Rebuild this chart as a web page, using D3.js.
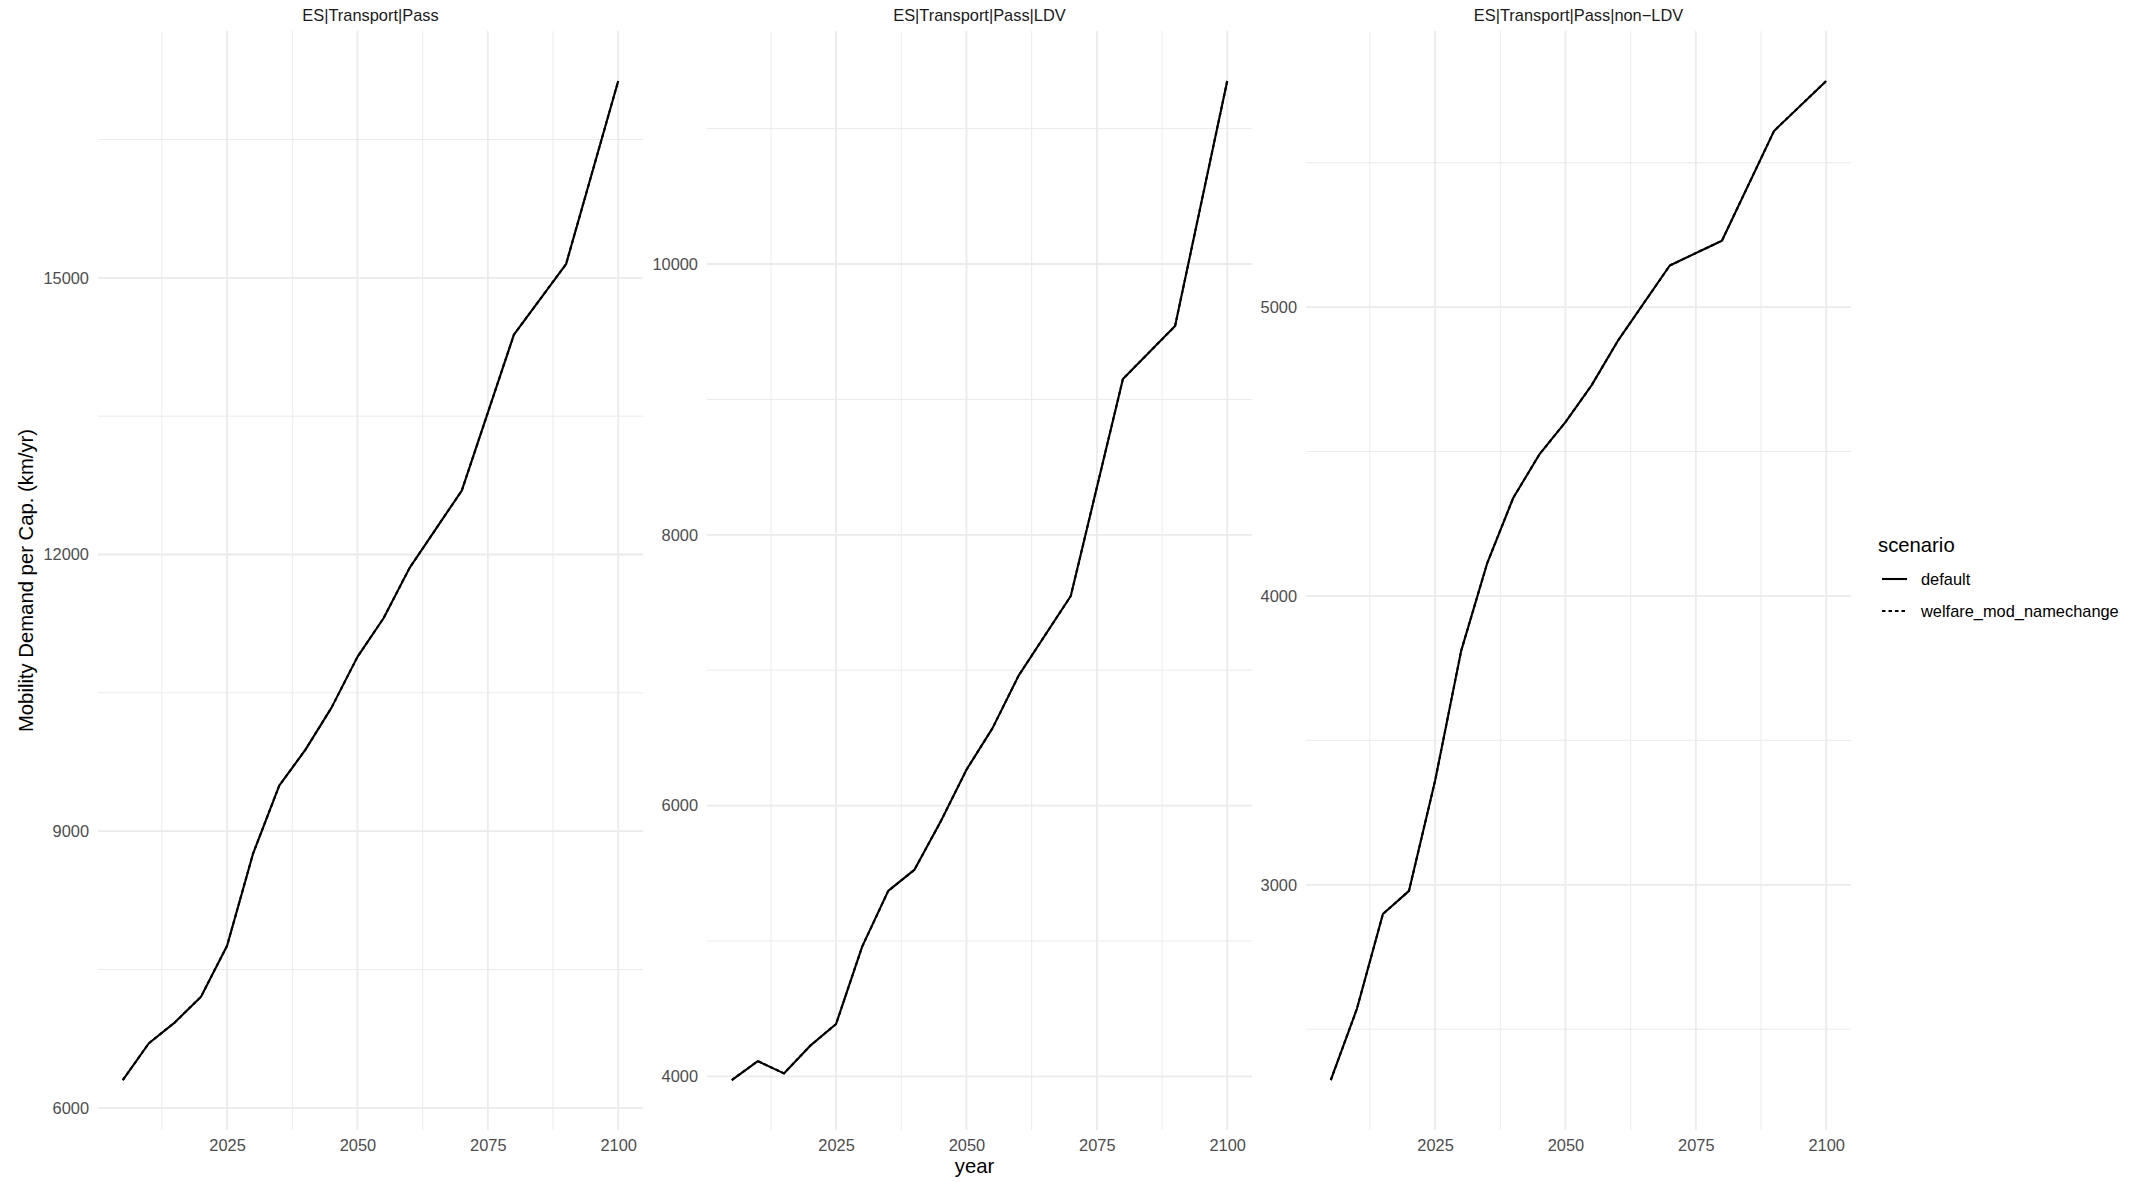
<!DOCTYPE html>
<html>
<head>
<meta charset="utf-8">
<script src="https://cdn.jsdelivr.net/npm/d3@7"></script>
<style>
  body { margin: 0; background: #fff; }
  text { font-family: "Liberation Sans", Arial, Helvetica, sans-serif; }
</style>
</head>
<body>
<div id="chart-container"></div>
<script>
//Data (km/yr per capita, by year)

const years = [2005, 2010, 2015, 2020, 2025, 2030, 2035, 2040, 2045, 2050, 2055, 2060, 2070, 2080, 2090, 2100];

const panelNames = ["ES|Transport|Pass", "ES|Transport|Pass|LDV", "ES|Transport|Pass|non\u2212LDV"];
const scenarios = ["default", "welfare_mod_namechange"];

const passDefault = [6301, 6700, 6927, 7205, 7758, 8760, 9493, 9881, 10337, 10890, 11309, 11855, 12693, 14384, 15149, 17135];
const passWelfare = [6301, 6700, 6927, 7205, 7758, 8760, 9493, 9881, 10337, 10890, 11309, 11855, 12693, 14384, 15149, 17135];

const ldvDefault = [3973, 4113, 4022, 4225, 4387, 4958, 5370, 5525, 5878, 6265, 6572, 6960, 7548, 9151, 9542, 11352];
const ldvWelfare = [3973, 4113, 4022, 4225, 4387, 4958, 5370, 5525, 5878, 6265, 6572, 6960, 7548, 9151, 9542, 11352];

const nonLdvDefault = [2324, 2570, 2899, 2979, 3360, 3810, 4114, 4340, 4490, 4602, 4729, 4882, 5144, 5230, 5610, 5783];
const nonLdvWelfare = [2324, 2570, 2899, 2979, 3360, 3810, 4114, 4340, 4490, 4602, 4729, 4882, 5144, 5230, 5610, 5783];

//Tick values

const xTicks = [2025, 2050, 2075, 2100];
const xMinor = [2012.5, 2037.5, 2062.5, 2087.5];
const yTicks = [[6000, 9000, 12000, 15000], [4000, 6000, 8000, 10000], [3000, 4000, 5000]];
const yMinor = [[7500, 10500, 13500, 16500], [5000, 7000, 9000, 11000], [2500, 3500, 4500, 5500]];

//Layout constants

const width = 2147;
const height = 1182;
const panelTop = 31;
const panelBottom = 1130;
const panelWidth = 545;
const panelLefts = [98, 707, 1306];
const gridColor = "#ebebeb";
const tickColor = "#4d4d4d";
const fontSmall = 16.4;
const fontLarge = 20.3;

const panels = [
  { name: panelNames[0], series: [passDefault, passWelfare] },
  { name: panelNames[1], series: [ldvDefault, ldvWelfare] },
  { name: panelNames[2], series: [nonLdvDefault, nonLdvWelfare] }
];

//ggplot-style 5% expansion of a data range

function expand(ext) {
  const pad = (ext[1] - ext[0]) * 0.05;
  return [ext[0] - pad, ext[1] + pad];
}

const svg = d3.select("#chart-container")
  .append("svg")
  .attr("width", width)
  .attr("height", height)
  .style("background", "#fff");

const xDomain = expand(d3.extent(years));

panels.forEach((p, i) => {
  const left = panelLefts[i];

  const xScale = d3.scaleLinear().domain(xDomain).range([left, left + panelWidth]);
  const yScale = d3.scaleLinear()
    .domain(expand(d3.extent(p.series.flat())))
    .range([panelBottom, panelTop]);

  const g = svg.append("g").attr("class", "panel");

  //minor gridlines first, then major

  g.selectAll(".xMinor")
    .data(xMinor)
    .join("line")
    .attr("x1", (d) => xScale(d))
    .attr("x2", (d) => xScale(d))
    .attr("y1", panelTop)
    .attr("y2", panelBottom)
    .attr("stroke", gridColor)
    .attr("stroke-width", 1);

  g.selectAll(".yMinor")
    .data(yMinor[i])
    .join("line")
    .attr("x1", left)
    .attr("x2", left + panelWidth)
    .attr("y1", (d) => yScale(d))
    .attr("y2", (d) => yScale(d))
    .attr("stroke", gridColor)
    .attr("stroke-width", 1);

  g.selectAll(".xMajor")
    .data(xTicks)
    .join("line")
    .attr("x1", (d) => xScale(d))
    .attr("x2", (d) => xScale(d))
    .attr("y1", panelTop)
    .attr("y2", panelBottom)
    .attr("stroke", gridColor)
    .attr("stroke-width", 1.8);

  g.selectAll(".yMajor")
    .data(yTicks[i])
    .join("line")
    .attr("x1", left)
    .attr("x2", left + panelWidth)
    .attr("y1", (d) => yScale(d))
    .attr("y2", (d) => yScale(d))
    .attr("stroke", gridColor)
    .attr("stroke-width", 1.8);

  //axes (labels only)

  g.append("g")
    .attr("transform", `translate(${left},0)`)
    .call(d3.axisLeft(yScale)
      .tickValues(yTicks[i])
      .tickFormat(d3.format("d"))
      .tickSize(0)
      .tickPadding(9))
    .call((a) => a.select(".domain").remove())
    .attr("font-size", fontSmall)
    .attr("font-family", null)
    .selectAll(".tick text")
      .attr("fill", tickColor);

  g.append("g")
    .attr("transform", `translate(0,${panelBottom})`)
    .call(d3.axisBottom(xScale)
      .tickValues(xTicks)
      .tickFormat(d3.format("d"))
      .tickSize(0)
      .tickPadding(9))
    .call((a) => a.select(".domain").remove())
    .attr("font-size", fontSmall)
    .attr("font-family", null)
    .selectAll(".tick text")
      .attr("fill", tickColor);

  //strip title

  g.append("text")
    .attr("x", left + panelWidth / 2)
    .attr("y", 21)
    .attr("text-anchor", "middle")
    .attr("font-size", fontSmall)
    .attr("fill", "#1a1a1a")
    .text(p.name);

  //lines: default solid, welfare dashed on top

  const line = d3.line()
    .x((d, j) => xScale(years[j]))
    .y((d) => yScale(d));

  g.selectAll(".series")
    .data(p.series)
    .join("path")
    .attr("fill", "none")
    .attr("stroke", "#000")
    .attr("stroke-width", 2.1)
    .attr("stroke-linejoin", "round")
    .attr("stroke-dasharray", (d, k) => k === 1 ? "3.5,3" : null)
    .attr("d", line);
});

//Axis titles

svg.append("text")
  .attr("x", (panelLefts[0] + panelLefts[2] + panelWidth) / 2)
  .attr("y", 1173)
  .attr("text-anchor", "middle")
  .attr("font-size", fontLarge)
  .attr("fill", "#000")
  .text("year");

svg.append("text")
  .attr("transform", `translate(32.5,${(panelTop + panelBottom) / 2}) rotate(-90)`)
  .attr("text-anchor", "middle")
  .attr("font-size", fontLarge)
  .attr("fill", "#000")
  .text("Mobility Demand per Cap. (km/yr)");

//Legend

const legend = svg.append("g").attr("transform", "translate(1878,0)");

legend.append("text")
  .attr("x", 0)
  .attr("y", 552)
  .attr("font-size", fontLarge)
  .attr("fill", "#000")
  .text("scenario");

legend.selectAll(".key")
  .data(scenarios)
  .join("line")
  .attr("x1", 4)
  .attr("x2", 29)
  .attr("y1", (d, k) => 579 + k * 32)
  .attr("y2", (d, k) => 579 + k * 32)
  .attr("stroke", "#000")
  .attr("stroke-width", 2.1)
  .attr("stroke-dasharray", (d, k) => k === 1 ? "3.5,3" : null);

legend.selectAll(".label")
  .data(scenarios)
  .join("text")
  .attr("x", 43)
  .attr("y", (d, k) => 579 + k * 32)
  .attr("dy", "0.35em")
  .attr("font-size", fontSmall)
  .attr("fill", "#000")
  .text((d) => d);
</script>
</body>
</html>
